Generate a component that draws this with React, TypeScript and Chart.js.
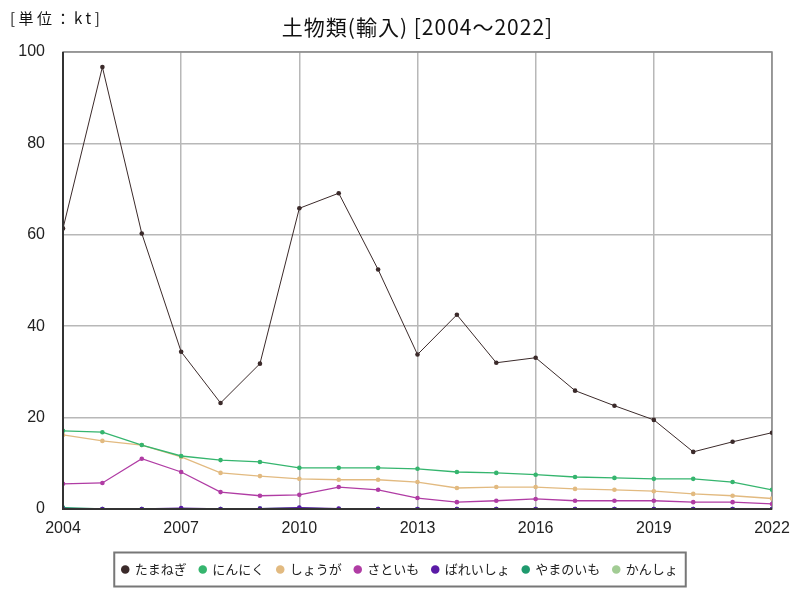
import React, { useEffect, useRef } from "react";
import { Chart, registerables } from "chart.js";

Chart.register(...registerables);

const years = [2004, 2005, 2006, 2007, 2008, 2009, 2010, 2011, 2012, 2013, 2014, 2015, 2016, 2017, 2018, 2019, 2020, 2021, 2022];

const tamanegi = [61.4, 96.7, 60.3, 34.4, 23.2, 31.8, 65.8, 69.1, 52.4, 33.8, 42.5, 32.0, 33.1, 25.9, 22.6, 19.5, 12.5, 14.7, 16.7];
const ninniku = [17.1, 16.8, 14.0, 11.6, 10.7, 10.3, 9.0, 9.0, 9.0, 8.8, 8.1, 7.9, 7.5, 7.0, 6.8, 6.6, 6.6, 5.9, 4.2];
const shouga = [16.2, 14.9, 14.0, 11.4, 7.9, 7.2, 6.6, 6.4, 6.4, 5.9, 4.6, 4.8, 4.8, 4.4, 4.2, 3.9, 3.3, 2.9, 2.3];
const satoimo = [5.5, 5.7, 11.0, 8.1, 3.7, 2.9, 3.1, 4.8, 4.2, 2.4, 1.5, 1.8, 2.2, 1.8, 1.8, 1.8, 1.5, 1.5, 1.1];
const bareisho = [0.0, 0.0, 0.0, 0.2, 0.0, 0.1, 0.3, 0.1, 0.0, 0.0, 0.0, 0.0, 0.0, 0.0, 0.0, 0.0, 0.0, 0.0, 0.0];
const yamanoimo = [0.3, 0.0, 0.0, 0.0, 0.0, 0.1, 0.2, 0.0, 0.0, 0.0, 0.0, 0.0, 0.0, 0.0, 0.0, 0.0, 0.0, 0.0, 0.0];
const kansho = [0.1, 0.0, 0.0, 0.0, 0.0, 0.0, 0.0, 0.0, 0.0, 0.0, 0.0, 0.0, 0.0, 0.0, 0.0, 0.0, 0.0, 0.0, 0.0];

const seriesNames = ["たまねぎ", "にんにく", "しょうが", "さといも", "ばれいしょ", "やまのいも", "かんしょ"];
const seriesValues = [tamanegi, ninniku, shouga, satoimo, bareisho, yamanoimo, kansho];
const seriesColors = ["#3b2a2a", "#35b56e", "#e2ba80", "#b03ca4", "#5a1aa6", "#1f9a6e", "#a2cc94"];

const titleText = "土物類(輸入) [2004～2022]";
const unitText = "[単位：kt]";
const FONT = "'Liberation Sans', 'Noto Sans CJK JP', sans-serif";
const JFONT = "'Noto Sans CJK JP', sans-serif";

const decorPlugin = {
  id: "decor",
  beforeDatasetsDraw(chart: any) {
    const { ctx, chartArea } = chart;
    ctx.save();
    ctx.strokeStyle = "#8a8a8a";
    ctx.lineWidth = 1.5;
    ctx.strokeRect(chartArea.left, chartArea.top, chartArea.right - chartArea.left, chartArea.bottom - chartArea.top);
    ctx.restore();
  },
  afterDraw(chart: any) {
    const { ctx, chartArea } = chart;
    ctx.save();
    ctx.strokeStyle = "#333";
    ctx.lineWidth = 2;
    ctx.beginPath();
    ctx.moveTo(chartArea.left, chartArea.top);
    ctx.lineTo(chartArea.left, chartArea.bottom);
    ctx.lineTo(chartArea.right, chartArea.bottom);
    ctx.stroke();
    ctx.fillStyle = "#111";
    ctx.textBaseline = "middle";
    ctx.textAlign = "center";
    ctx.font = "21px " + JFONT;
    (ctx as any).letterSpacing = "1px";
    ctx.fillText(titleText, (chartArea.left + chartArea.right) / 2, 27);
    ctx.textAlign = "left";
    ctx.font = "15px " + JFONT;
    (ctx as any).letterSpacing = "3.5px";
    ctx.fillText(unitText, 10, 18);
    (ctx as any).letterSpacing = "0px";
    const boxes = chart.legend && chart.legend.legendHitBoxes;
    if (boxes && boxes.length) {
      let l = Infinity, r = -Infinity, t = Infinity, b = -Infinity;
      boxes.forEach((h: any) => {
        l = Math.min(l, h.left);
        r = Math.max(r, h.left + h.width);
        t = Math.min(t, h.top);
        b = Math.max(b, h.top + h.height);
      });
      const cy = (t + b) / 2;
      ctx.strokeStyle = "#777";
      ctx.lineWidth = 2;
      ctx.strokeRect(l - 8, cy - 17, r - l + 16, 34);
    }
    ctx.restore();
  },
};

export default function App() {
  const ref = useRef<HTMLCanvasElement | null>(null);
  useEffect(() => {
    if (!ref.current) return;
    const chart = new Chart(ref.current, {
      type: "line",
      data: {
        datasets: seriesNames.map((name, i) => ({
          label: name,
          data: years.map((y, j) => ({ x: y, y: seriesValues[i][j] })),
          borderColor: seriesColors[i],
          backgroundColor: seriesColors[i],
          borderWidth: i === 0 ? 1 : 1.3,
          pointRadius: 2.3,
          pointBorderWidth: 0,
          pointHoverRadius: 3,
          tension: 0,
          yAxisID: "y",
        })),
      },
      options: {
        responsive: false,
        animation: false,
        layout: { padding: { top: 52, left: 0, right: 0, bottom: 14 } },
        scales: {
          x: {
            type: "linear",
            min: 2004,
            max: 2022,
            afterFit: (s: any) => { s.height = 41; },
            ticks: {
              stepSize: 3,
              autoSkip: false,
              callback: (v: any) => String(v),
              color: "#222",
              font: { size: 16, family: FONT },
              padding: 10,
              maxRotation: 0,
            },
            grid: { color: "#b8b8b8", lineWidth: 1.5, drawTicks: false },
            border: { display: false },
          },
          y: {
            min: 0,
            max: 100,
            afterFit: (s: any) => { s.width = 63; },
            ticks: {
              stepSize: 20,
              color: "#222",
              font: { size: 16, family: FONT },
              padding: 18,
            },
            grid: { color: "#b8b8b8", lineWidth: 1.5, drawTicks: false },
            border: { display: false },
          },
          yRight: {
            type: "linear",
            position: "right",
            min: 0,
            max: 100,
            afterFit: (s: any) => { s.width = 28; },
            ticks: { display: false },
            grid: { display: false, drawTicks: false },
            border: { display: false },
          },
        },
        plugins: {
          title: { display: false },
          tooltip: { enabled: false },
          legend: {
            display: true,
            position: "bottom",
            labels: {
              usePointStyle: true,
              pointStyle: "circle",
              boxWidth: 6,
              boxHeight: 6,
              padding: 13,
              color: "#222",
              font: { size: 13, family: JFONT },
            },
          },
        },
      },
      plugins: [decorPlugin],
    } as any);
    return () => chart.destroy();
  }, []);
  return (
    <div style={{ position: "fixed", left: 0, top: 0, width: 800, height: 600, background: "#fff" }}>
      <canvas ref={ref} width={800} height={600} />
    </div>
  );
}
